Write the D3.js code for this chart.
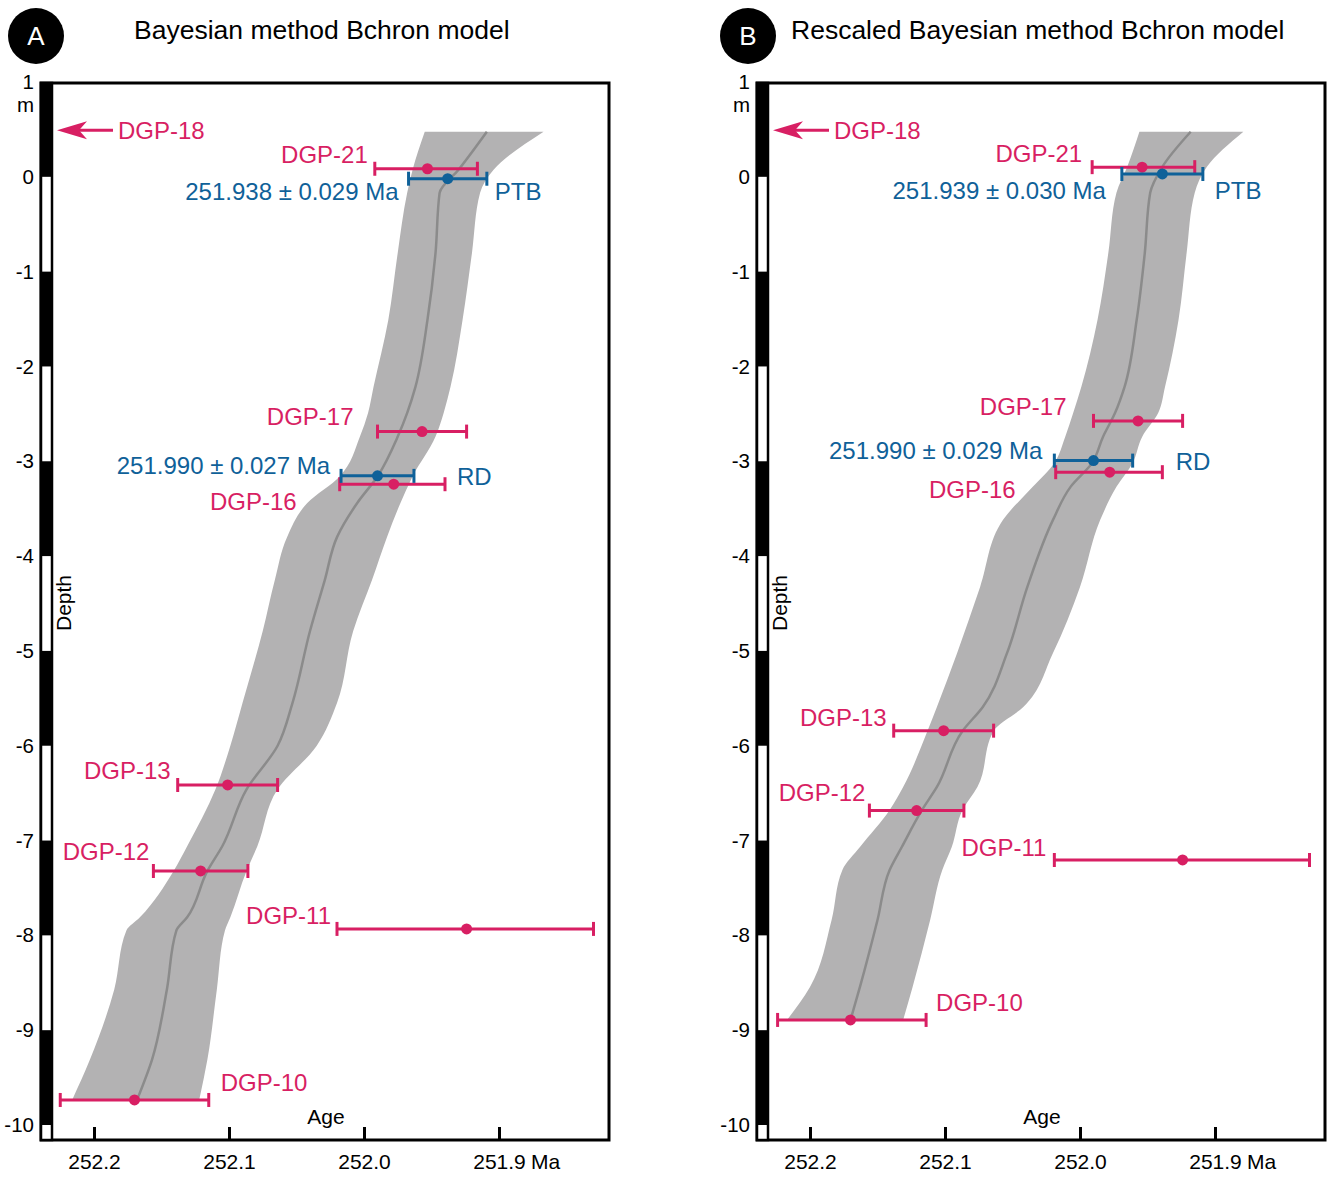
<!DOCTYPE html>
<html>
<head>
<meta charset="utf-8">
<script src="https://cdn.jsdelivr.net/npm/d3@7"></script>
<style>
  body { margin: 0; background: #fff; }
  text { font-family: "Liberation Sans", Arial, Helvetica, sans-serif; }
</style>
</head>
<body>
<svg id="chart" width="1333" height="1178"></svg>
<script>
// ---- data ----
var panelLetters = ["A", "B"];
var titles = ["Bayesian method Bchron model", "Rescaled Bayesian method Bchron model"];
var ageTicks = [252.2, 252.1, 252.0, 251.9];
var depthTicks = [1, 0, -1, -2, -3, -4, -5, -6, -7, -8, -9, -10];
// black intervals of the depth bar (m)
var blackBeds = [[1, 0], [-1, -2], [-3, -4], [-5, -6], [-7, -8], [-9, -10]];

// dated ash beds (pink)
var sampleNames = ["DGP-21", "DGP-17", "DGP-16", "DGP-13", "DGP-12", "DGP-11", "DGP-10"];
var depthA = [0.085, -2.687, -3.242, -6.414, -7.321, -7.932, -9.736];
var ageA = [251.953, 251.957, 251.978, 252.101, 252.121, 251.924, 252.170];
var ageOldA = [251.992, 251.990, 252.018, 252.138, 252.156, 252.020, 252.225];
var ageYoungA = [251.916, 251.924, 251.940, 252.064, 252.086, 251.830, 252.115];
var depthB = [0.102, -2.574, -3.115, -5.841, -6.684, -7.205, -8.892];
var ageB = [251.954, 251.957, 251.978, 252.101, 252.121, 251.924, 252.170];
var ageOldB = [251.991, 251.990, 252.018, 252.138, 252.156, 252.019, 252.224];
var ageYoungB = [251.915, 251.924, 251.939, 252.064, 252.086, 251.830, 252.114];

// sample above the model (arrow only)
var topSample = "DGP-18";
var topSampleDepth = 0.49;

// modelled boundaries (blue)
var markerNames = ["PTB", "RD"];
var markerDepthA = [-0.02, -3.154];
var markerAgeA = [251.938, 251.990];
var markerErrA = [0.029, 0.027];
var markerDepthB = [0.03, -2.993];
var markerAgeB = [251.939, 251.990];
var markerErrB = [0.030, 0.029];

// Bchron age-depth model: 95% band + median
var bandDepthA = [0.475, 0.074, -0.169, -0.80, -1.51, -2.22, -2.49, -2.74, -3.16, -3.44, -3.80, -4.25, -4.79, -5.55, -6.00, -6.46, -7.06, -7.32, -7.81, -7.95, -8.57, -9.31, -9.73];
var bandOldA = [251.955, 251.964, 251.968, 251.975, 251.982, 251.993, 251.997, 252.003, 252.018, 252.042, 252.057, 252.066, 252.075, 252.090, 252.099, 252.110, 252.131, 252.141, 252.166, 252.176, 252.185, 252.203, 252.216];
var bandMidA = [251.909, 251.930, 251.944, 251.947, 251.953, 251.962, 251.968, 251.975, 251.990, 252.005, 252.020, 252.029, 252.040, 252.053, 252.064, 252.087, 252.105, 252.116, 252.131, 252.139, 252.146, 252.157, 252.168];
var bandYoungA = [251.867, 251.904, 251.914, 251.920, 251.927, 251.936, 251.941, 251.947, 251.964, 251.973, 251.983, 251.994, 252.008, 252.020, 252.035, 252.064, 252.079, 252.087, 252.099, 252.103, 252.109, 252.116, 252.122];

var bandDepthB = [0.475, 0.105, -0.169, -0.802, -1.508, -2.215, -2.489, -2.743, -3.017, -3.270, -3.618, -4.325, -5.021, -5.591, -5.844, -6.435, -6.677, -7.068, -7.310, -7.838, -8.544, -8.892];
var bandOldB = [251.956, 251.965, 251.973, 251.979, 251.987, 251.999, 252.005, 252.011, 252.019, 252.035, 252.057, 252.074, 252.091, 252.106, 252.113, 252.131, 252.141, 252.163, 252.176, 252.184, 252.200, 252.217];
var bandMidB = [251.918, 251.939, 251.948, 251.952, 251.958, 251.967, 251.974, 251.983, 251.991, 252.007, 252.020, 252.039, 252.054, 252.072, 252.087, 252.106, 252.117, 252.132, 252.141, 252.150, 252.163, 252.170];
var bandYoungB = [251.879, 251.906, 251.915, 251.921, 251.927, 251.937, 251.942, 251.954, 251.961, 251.973, 251.985, 252.000, 252.020, 252.042, 252.064, 252.076, 252.087, 252.095, 252.102, 252.111, 252.124, 252.131];

// ---- layout ----
var pink = "#d81f63", blue = "#0f6199", bandGrey = "#b3b2b3", medGrey = "#8b8b8b";
var panelShift = [0, 716];
var circleX = [36, 748], titleX = [134, 791];
// label offsets: dx from bar end, dy from point (center)
var labelLayout = [
  { dx: [-7, -24, -43, -7, -4, -6, 12], dy: [-14, -15, 17, -14, -19, -13, -17] },
  { dx: [-10, -27, -40, -7, -4, -8, 10], dy: [-14, -14, 17, -13, -18, -12, -17] }
];
var markerLayout = [
  { valDx: [-10, -11], valDy: [13, -10], nameDx: [8, 43], nameDy: [13, 1] },
  { valDx: [-16, -12], valDy: [17, -10], nameDx: [12, 43], nameDy: [17, 1] }
];

var panelData = [
  { depth: depthA, age: ageA, old: ageOldA, young: ageYoungA,
    mDepth: markerDepthA, mAge: markerAgeA, mErr: markerErrA,
    bDepth: bandDepthA, bOld: bandOldA, bMid: bandMidA, bYoung: bandYoungA },
  { depth: depthB, age: ageB, old: ageOldB, young: ageYoungB,
    mDepth: markerDepthB, mAge: markerAgeB, mErr: markerErrB,
    bDepth: bandDepthB, bOld: bandOldB, bMid: bandMidB, bYoung: bandYoungB }
];

var svg = d3.select("#chart");
var frameTop = 83, frameBottom = 1140;
var y = d3.scaleLinear().domain([1, -10]).range([82, 1125]);

panelLetters.forEach(function (letter, i) {
  var p = panelData[i];
  var s = panelShift[i];
  var left = 41 + s, right = 609 + s;
  var x = d3.scaleLinear().domain([252.2, 251.9]).range([94 + s, 499 + s]);
  var g = svg.append("g");

  // header
  g.append("circle").attr("cx", circleX[i]).attr("cy", 36).attr("r", 28).attr("fill", "#000");
  g.append("text").attr("x", circleX[i]).attr("y", 45).attr("text-anchor", "middle")
    .attr("font-size", 26).attr("fill", "#fff").text(letter);
  g.append("text").attr("x", titleX[i]).attr("y", 39).attr("font-size", 26.5)
    .attr("fill", "#000").text(titles[i]);

  // model band + median
  var band = p.bDepth.map(function (d, k) {
    return { d: d, old: p.bOld[k], mid: p.bMid[k], young: p.bYoung[k] };
  });
  g.append("path").datum(band)
    .attr("d", d3.area().curve(d3.curveMonotoneY)
      .y(function (d) { return y(d.d); })
      .x0(function (d) { return x(d.old); })
      .x1(function (d) { return x(d.young); }))
    .attr("fill", bandGrey);
  g.append("path").datum(band)
    .attr("d", d3.line().curve(d3.curveMonotoneY)
      .y(function (d) { return y(d.d); })
      .x(function (d) { return x(d.mid); }))
    .attr("fill", "none").attr("stroke", medGrey).attr("stroke-width", 2.5);

  // frame
  g.append("rect").attr("x", left).attr("y", frameTop).attr("width", right - left)
    .attr("height", frameBottom - frameTop)
    .attr("fill", "none").attr("stroke", "#000").attr("stroke-width", 3);

  // depth bar
  g.append("rect").attr("x", left).attr("y", frameTop).attr("width", 11)
    .attr("height", frameBottom - frameTop)
    .attr("fill", "#fff").attr("stroke", "#000").attr("stroke-width", 2.5);
  g.selectAll(".bed").data(blackBeds).enter().append("rect")
    .attr("x", left).attr("width", 11)
    .attr("y", function (d) { return Math.max(frameTop, y(d[0])); })
    .attr("height", function (d) { return y(d[1]) - Math.max(frameTop, y(d[0])); })
    .attr("fill", "#000");

  // depth axis
  var ya = g.append("g").attr("transform", "translate(" + left + ",0)")
    .call(d3.axisLeft(y).tickValues(depthTicks).tickSize(0).tickPadding(7)
      .tickFormat(function (d) { return String(d); }));
  ya.select(".domain").remove();
  ya.attr("font-size", 20.5).attr("font-family", null);
  ya.selectAll("text").attr("fill", "#000");
  g.append("text").attr("x", left - 7).attr("y", 112).attr("text-anchor", "end")
    .attr("font-size", 20.5).text("m");
  g.append("text").attr("transform", "translate(" + (left + 30) + ",603) rotate(-90)")
    .attr("text-anchor", "middle").attr("font-size", 21).text("Depth");

  // age axis
  var xa = g.append("g").attr("transform", "translate(0," + frameBottom + ")")
    .call(d3.axisBottom(x).tickValues(ageTicks).tickSize(-13).tickPadding(14)
      .tickFormat(d3.format(".1f")));
  xa.select(".domain").remove();
  xa.attr("font-size", 21).attr("font-family", null);
  xa.selectAll("line").attr("stroke", "#000").attr("stroke-width", 3);
  xa.selectAll("text").attr("fill", "#000");
  g.append("text").attr("x", x(251.9) + 32).attr("y", frameBottom + 29).attr("font-size", 21).text("Ma");
  g.append("text").attr("x", x(252.0) - 38).attr("y", 1124).attr("text-anchor", "middle")
    .attr("font-size", 21).text("Age");

  // DGP-18 arrow
  var ay = y(topSampleDepth), ax = left + 16;
  g.append("line").attr("x1", ax + 20).attr("x2", ax + 56).attr("y1", ay).attr("y2", ay)
    .attr("stroke", pink).attr("stroke-width", 3);
  g.append("path")
    .attr("d", "M" + ax + "," + ay + "L" + (ax + 30) + "," + (ay - 9) + "L" + (ax + 22) + "," + ay +
      "L" + (ax + 30) + "," + (ay + 9) + "Z")
    .attr("fill", pink);
  g.append("text").attr("x", ax + 61).attr("y", ay).attr("dy", "0.35em").attr("font-size", 24)
    .attr("fill", pink).text(topSample);

  function errorBar(x0, x1, yy, col) {
    g.append("line").attr("x1", x0).attr("x2", x1).attr("y1", yy).attr("y2", yy)
      .attr("stroke", col).attr("stroke-width", 3);
    [x0, x1].forEach(function (xx) {
      g.append("line").attr("x1", xx).attr("x2", xx).attr("y1", yy - 7).attr("y2", yy + 7)
        .attr("stroke", col).attr("stroke-width", 3);
    });
  }

  // samples
  var L = labelLayout[i];
  sampleNames.forEach(function (name, k) {
    var yy = y(p.depth[k]);
    var x0 = x(p.old[k]), x1 = x(p.young[k]);
    errorBar(x0, x1, yy, pink);
    g.append("circle").attr("cx", x(p.age[k])).attr("cy", yy).attr("r", 5.5).attr("fill", pink);
    var onRight = L.dx[k] > 0;
    g.append("text").attr("x", (onRight ? x1 : x0) + L.dx[k]).attr("y", yy + L.dy[k]).attr("dy", "0.35em")
      .attr("text-anchor", onRight ? "start" : "end").attr("font-size", 24).attr("fill", pink).text(name);
  });

  // boundary markers
  var M = markerLayout[i];
  markerNames.forEach(function (name, k) {
    var yy = y(p.mDepth[k]);
    var x0 = x(p.mAge[k] + p.mErr[k]), x1 = x(p.mAge[k] - p.mErr[k]);
    errorBar(x0, x1, yy, blue);
    g.append("circle").attr("cx", x(p.mAge[k])).attr("cy", yy).attr("r", 5.5).attr("fill", blue);
    g.append("text").attr("x", x0 + M.valDx[k]).attr("y", yy + M.valDy[k]).attr("dy", "0.35em")
      .attr("text-anchor", "end").attr("font-size", 24).attr("fill", blue)
      .text(p.mAge[k].toFixed(3) + " \u00b1 " + p.mErr[k].toFixed(3) + " Ma");
    g.append("text").attr("x", x1 + M.nameDx[k]).attr("y", yy + M.nameDy[k]).attr("dy", "0.35em")
      .attr("font-size", 24).attr("fill", blue).text(name);
  });
});
</script>
</body>
</html>
